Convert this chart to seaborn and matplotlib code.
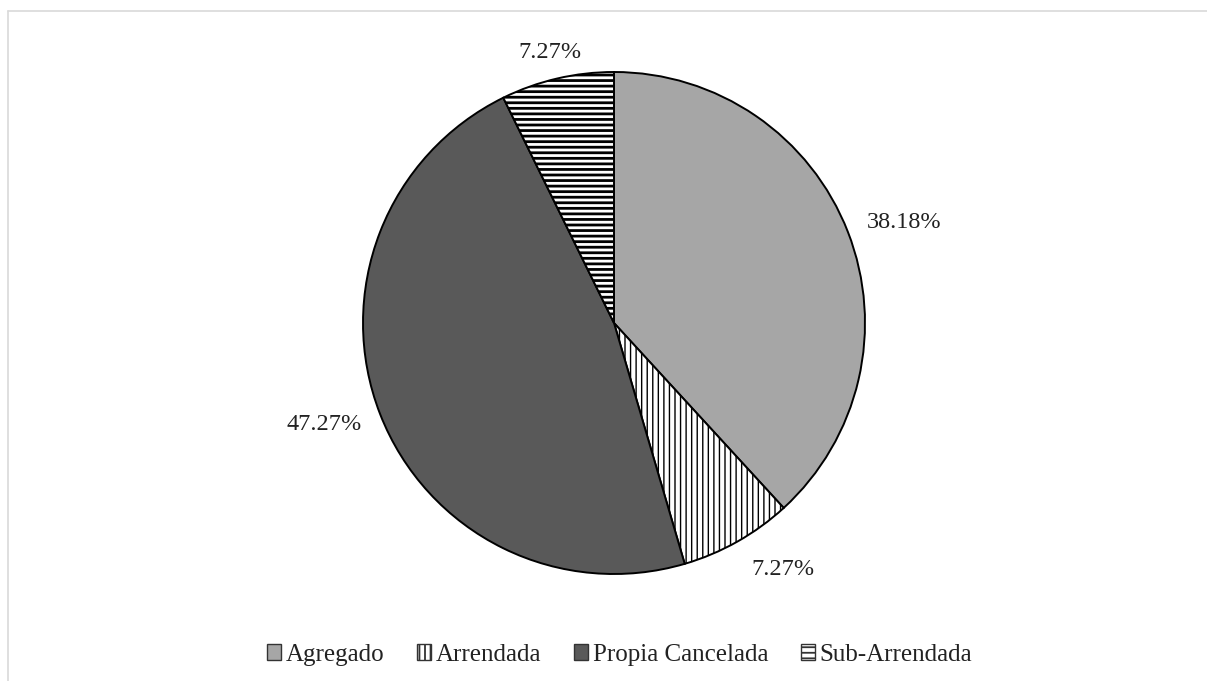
import numpy as np
import seaborn as sns
import matplotlib.pyplot as plt
from matplotlib.lines import Line2D

# data
categories = ['Agregado', 'Arrendada', 'Propia Cancelada', 'Sub-Arrendada']
shares = [38.18, 7.27, 47.27, 7.27]

sns.set_theme(style="white")
plt.rcParams['font.family'] = ['Liberation Serif', 'DejaVu Serif']
plt.rcParams['hatch.linewidth'] = 1.3

fills = ['#a6a6a6', 'white', '#595959', 'white']
hatches = [None, '|||', None, '---']
hatch_lw = [1.0, 1.0, 1.0, 2.0]

fig = plt.figure(figsize=(12.07, 6.81), dpi=100)
ax = fig.add_axes([363 / 1207, 107 / 681, 502 / 1207, 502 / 681])

wedges, _ = ax.pie(shares, colors=fills, startangle=90, counterclock=False,
                   wedgeprops=dict(edgecolor='black', linewidth=1.4))
for w, h, hl in zip(wedges, hatches, hatch_lw):
    if h:
        w.set_hatch(h)
        if hasattr(w, 'set_hatch_linewidth'):
            w.set_hatch_linewidth(hl)

# percentage labels outside the pie (distance in radii, angle nudge in degrees)
label_dist = [1.223, 1.19, 1.223, 1.108]
label_nudge = [-2.1, 4.9, -1.9, 0.2]
for w, val, d, nd in zip(wedges, shares, label_dist, label_nudge):
    ang = np.deg2rad((w.theta1 + w.theta2) / 2 + nd)
    ax.text(d * np.cos(ang), d * np.sin(ang), f'{val:.2f}%',
            ha='center', va='center', fontsize=17.5, color='#222222')
ax.set_aspect('equal')
ax.set_xlim(-1, 1)
ax.set_ylim(-1, 1)
ax.axis('off')

handles = [plt.Rectangle((0, 0), 1, 1, facecolor=f, edgecolor='#333333',
                         hatch=h, linewidth=1) for f, h in zip(fills, hatches)]
fig.legend(handles, categories, loc='center', bbox_to_anchor=(619.5 / 1207, 1 - 655 / 681),
           ncol=4, frameon=False, fontsize=18, handlelength=0.56, handleheight=0.6,
           handletextpad=0.2, columnspacing=1.3, labelcolor='#222222')

# light frame of the chart area (top and left edges visible)
fig.add_artist(Line2D([8 / 1207, 1], [1 - 11 / 681, 1 - 11 / 681], color='#d9d9d9', lw=1.2))
fig.add_artist(Line2D([8 / 1207, 8 / 1207], [0, 1 - 11 / 681], color='#d9d9d9', lw=1.2))

fig.savefig('out.png', dpi=100, facecolor='white')
